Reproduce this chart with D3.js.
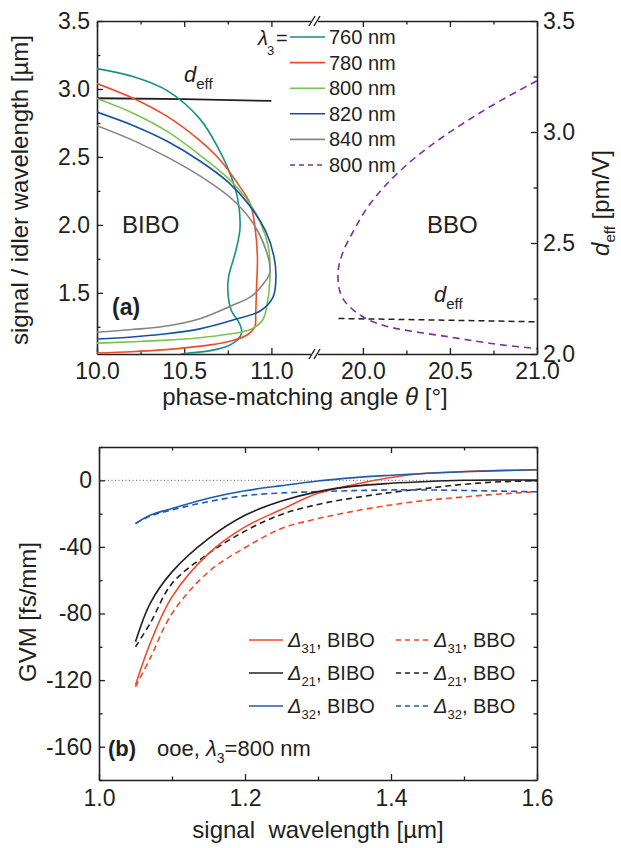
<!DOCTYPE html>
<html><head><meta charset="utf-8">
<script src="https://cdn.jsdelivr.net/npm/d3@7"></script>
<style>
body{margin:0;background:#fff}
svg{display:block;font-family:"Liberation Sans",Arial,sans-serif;fill:#231f20}
</style></head><body>
<svg id="c" width="621" height="848"></svg>
<script>
// ---------- DATA: panel (a) ----------
const lambda3Labels = ["760 nm","780 nm","800 nm","820 nm","840 nm","800 nm"];
// BIBO phase-matching curves [angle (deg), signal/idler wavelength (um)]
const bibo760 = [[10.0,3.15],[10.21,3.09],[10.40,2.99],[10.59,2.78],[10.694,2.566],[10.768,2.36],[10.808,2.183],[10.82,1.977],[10.797,1.815],[10.755,1.62],[10.75,1.52],[10.77,1.37],[10.815,1.28],[10.83,1.21],[10.81,1.16],[10.76,1.115],[10.65,1.075],[10.52,1.056],[10.48,1.05]];
const bibo780 = [[10.0,3.04],[10.21,2.93],[10.40,2.80],[10.59,2.62],[10.707,2.476],[10.805,2.307],[10.879,2.153],[10.908,1.96],[10.92,1.763],[10.915,1.55],[10.91,1.35],[10.905,1.25],[10.86,1.19],[10.78,1.15],[10.64,1.115],[10.50,1.095],[10.37,1.08],[10.2,1.067],[10.0,1.057]];
const bibo800 = [[10.0,2.93],[10.21,2.82],[10.40,2.69],[10.59,2.514],[10.78,2.308],[10.906,2.095],[10.98,1.852],[10.992,1.705],[10.99,1.57],[10.98,1.45],[10.95,1.30],[10.88,1.23],[10.75,1.195],[10.59,1.17],[10.37,1.15],[10.2,1.14],[10.0,1.13]];
const bibo820 = [[10.0,2.83],[10.21,2.73],[10.40,2.617],[10.59,2.47],[10.751,2.316],[10.877,2.139],[10.969,1.948],[11.015,1.764],[11.026,1.617],[11.01,1.47],[10.94,1.37],[10.78,1.30],[10.59,1.235],[10.37,1.195],[10.2,1.175],[10.0,1.16]];
const bibo840 = [[10.0,2.73],[10.21,2.62],[10.40,2.50],[10.59,2.36],[10.78,2.183],[10.894,2.014],[10.969,1.815],[10.992,1.653],[10.95,1.56],[10.88,1.47],[10.78,1.41],[10.59,1.31],[10.37,1.25],[10.2,1.23],[10.0,1.21]];
// BBO phase-matching curve, lambda3 = 800 nm
const bbo800 = [[21.0,3.06],[20.788,2.912],[20.598,2.765],[20.426,2.617],[20.271,2.463],[20.127,2.286],[20.024,2.124],[19.949,1.962],[19.886,1.80],[19.857,1.646],[19.88,1.47],[19.98,1.34],[20.12,1.26],[20.5,1.175],[20.78,1.12],[21.0,1.09]];
// effective nonlinearity [angle, pm/V]
const deffBIBO = [[10.0,3.152],[10.5,3.148],[11.0,3.14]];
const deffBBO = [[19.86,2.16],[20.5,2.152],[21.0,2.145]];
// ticks
const xTicksL = [10.0,10.5,11.0], xMinorL = [10.25,10.75];
const xTicksR = [20.0,20.5,21.0], xMinorR = [20.25,20.75];
const yTicksL = [1.5,2.0,2.5,3.0,3.5], yMinorL = [1.25,1.75,2.25,2.75,3.25];
const yTicksR = [2.0,2.5,3.0,3.5], yMinorR = [2.25,2.75,3.25];

// ---------- DATA: panel (b) ----------
const signalWl = [1.05,1.07,1.1,1.15,1.2,1.25,1.3,1.35,1.4,1.45,1.5,1.55,1.6];
const d31BIBO = [-123,-98,-70,-44,-28,-17.5,-7.8,-2.5,1.7,4.2,5.3,5.9,6.3];
const d31BBO  = [-124,-107,-80,-55,-40.5,-29,-23,-18.5,-14.8,-12,-10,-8.2,-6.9];
const d21BIBO = [-97,-74,-55,-35,-21,-12.5,-6.8,-3.5,-1.8,-0.7,0,0.2,0.2];
const d21BBO  = [-100,-86,-62,-44,-30.5,-20.5,-14.5,-10.5,-7.3,-4.8,-2.4,-0.9,-0.3];
const d32BIBO = [-26,-21,-17,-10.8,-6.3,-3.2,-0.4,1.6,3.0,4.2,5.1,5.8,6.3];
const d32BBO  = [-26,-21.5,-17.8,-12.8,-9.2,-7.6,-6.8,-6.2,-5.8,-5.8,-6.1,-6.5,-6.9];
const gvmLegend = [["31","BIBO"],["21","BIBO"],["32","BIBO"],["31","BBO"],["21","BBO"],["32","BBO"]];
const x2Ticks = [1.0,1.2,1.4,1.6], x2Minor = [1.1,1.3,1.5];
const y2Ticks = [-160,-120,-80,-40,0], y2Minor = [-180,-140,-100,-60,-20,20];

// ---------- DRAW ----------
const svg = d3.select("#c");
const ink = "#231f20";
const F = "23px";

// panel (a) scales
const xL = d3.scaleLinear().domain([10.0,11.25]).range([97,315]);
const xR = d3.scaleLinear().domain([19.725,21.0]).range([315,537]);
const yL = d3.scaleLinear().domain([1.05,3.5]).range([354,21]);
const yR = d3.scaleLinear().domain([2.0,3.5]).range([354,21]);

const defs = svg.append("defs");
defs.append("clipPath").attr("id","clipL").append("rect").attr("x",97).attr("y",21).attr("width",218).attr("height",333);
defs.append("clipPath").attr("id","clipR").append("rect").attr("x",315).attr("y",21).attr("width",222).attr("height",333);

function styleAxis(g, size){
  g.select(".domain").attr("stroke",ink).attr("stroke-width",1.6);
  g.selectAll(".tick line").attr("stroke",ink).attr("stroke-width",1.3);
  g.selectAll("text").attr("fill",ink).style("font-size",size||F);
}
function addAxis(axis, tx, ty, major, minor, labels, pad){
  const g = svg.append("g").attr("transform",`translate(${tx},${ty})`)
    .call(axis.tickValues(major).tickSize(-6).tickSizeOuter(0).tickPadding(pad||8)
      .tickFormat(labels ? labels : ""));
  styleAxis(g);
  if (minor && minor.length){
    const gm = svg.append("g").attr("transform",`translate(${tx},${ty})`)
      .call(axis.tickValues(minor).tickSize(-3.5).tickFormat(""));
    styleAxis(gm);
    gm.select(".domain").remove();
  }
  return g;
}
const f1 = d3.format(".1f");

// bottom x axes (a)
addAxis(d3.axisBottom(xL),0,354,xTicksL,xMinorL,f1,9);
addAxis(d3.axisBottom(xR),0,354,xTicksR,xMinorR,f1,9);
// top x axes (a)
addAxis(d3.axisTop(xL),0,21,xTicksL,xMinorL,null);
addAxis(d3.axisTop(xR),0,21,xTicksR,xMinorR,null);
// left y
addAxis(d3.axisLeft(yL),97,0,yTicksL,yMinorL,f1,7);
// right y
addAxis(d3.axisRight(yR),537,0,yTicksR,yMinorR,f1,6);

// axis breaks
[354,21].forEach(yy=>{
  svg.append("rect").attr("x",311).attr("y",yy-3).attr("width",7).attr("height",6).attr("fill","#fff");
  [309,314].forEach(x0=>{
    svg.append("line").attr("x1",x0).attr("y1",yy+5).attr("x2",x0+6).attr("y2",yy-5)
      .attr("stroke",ink).attr("stroke-width",1.4);
  });
});

const lineL = d3.line().x(d=>xL(d[0])).y(d=>yL(d[1])).curve(d3.curveCatmullRom.alpha(0.5));
const lineR = d3.line().x(d=>xR(d[0])).y(d=>yL(d[1])).curve(d3.curveCatmullRom.alpha(0.5));
const lineLd = d3.line().x(d=>xL(d[0])).y(d=>yR(d[1]));
const lineRd = d3.line().x(d=>xR(d[0])).y(d=>yR(d[1]));

const biboSeries = [bibo760,bibo780,bibo800,bibo820,bibo840];
const biboColors = ["#13918b","#f04b27","#7cc250","#1550a6","#858585"];
const bboColor = "#7a2fa2";

svg.append("path").attr("d",lineLd(deffBIBO)).attr("fill","none").attr("stroke",ink).attr("stroke-width",1.8);
svg.append("path").attr("d",lineRd(deffBBO)).attr("fill","none").attr("stroke",ink).attr("stroke-width",1.5).attr("stroke-dasharray","6,4");

biboSeries.forEach((s,i)=>{
  svg.append("path").attr("d",lineL(s)).attr("clip-path","url(#clipL)")
    .attr("fill","none").attr("stroke",biboColors[i]).attr("stroke-width",1.6);
});
svg.append("path").attr("d",lineR(bbo800)).attr("clip-path","url(#clipR)")
  .attr("fill","none").attr("stroke",bboColor).attr("stroke-width",1.6).attr("stroke-dasharray","7,5");

// legend (a)
svg.append("text").attr("x",258).attr("y",45).style("font-size","20px").style("font-style","italic").text("λ");
svg.append("text").attr("x",267).attr("y",55).style("font-size","13px").text("3");
svg.append("text").attr("x",276).attr("y",45).style("font-size","20px").text("=");
lambda3Labels.forEach((lab,i)=>{
  const cy = 37 + i*25.6;
  svg.append("line").attr("x1",290).attr("x2",325).attr("y1",cy).attr("y2",cy)
    .attr("stroke", i<5 ? biboColors[i] : bboColor).attr("stroke-width",1.6)
    .attr("stroke-dasharray", i<5 ? null : "5,4");
  svg.append("text").attr("x",329).attr("y",cy+7).style("font-size","20px").text(lab);
});

// annotations (a)
function deffText(x,y,size,sub){
  const t = svg.append("text").attr("x",x).attr("y",y).style("font-size",size+"px");
  t.append("tspan").style("font-style","italic").text("d");
  t.append("tspan").attr("dy",sub*0.45).style("font-size",(sub)+"px").text("eff");
  return t;
}
deffText(184,82,22,15);
deffText(434,302,22,15);
svg.append("text").attr("x",122).attr("y",233).style("font-size","24px").text("BIBO");
svg.append("text").attr("x",427).attr("y",233).style("font-size","24px").text("BBO");
svg.append("text").attr("x",112).attr("y",315).style("font-size","23px").style("font-weight","bold").text("(a)");

// axis titles (a)
svg.append("text").attr("x",305).attr("y",405).attr("text-anchor","middle").style("font-size","24px")
  .html('phase-matching angle <tspan font-style="italic">θ</tspan> [°]');
svg.append("text").attr("transform","translate(28,190) rotate(-90)").attr("text-anchor","middle")
  .style("font-size","24px").text("signal / idler wavelength [µm]");
{
  const t = svg.append("text").attr("transform","translate(609,203) rotate(-90)").attr("text-anchor","middle").style("font-size","24px");
  t.append("tspan").style("font-style","italic").text("d");
  t.append("tspan").attr("dy",6).style("font-size","15px").text("eff");
  t.append("tspan").attr("dy",-6).text(" [pm/V]");
}

// ---------- panel (b) ----------
const x2 = d3.scaleLinear().domain([1.0,1.6]).range([99,537]);
const y2 = d3.scaleLinear().domain([-180,20]).range([780,447]);
const f2 = d3.format(".1f");
const fy = d=>String(d);

addAxis(d3.axisBottom(x2),0,780,x2Ticks,x2Minor,f2,10);
addAxis(d3.axisTop(x2),0,447,x2Ticks,x2Minor,null);
addAxis(d3.axisLeft(y2),99,0,y2Ticks,y2Minor,fy,7);
addAxis(d3.axisRight(y2),537,0,y2Ticks,y2Minor,null);

// zero line
svg.append("line").attr("x1",x2(1.0)+2).attr("x2",x2(1.6)).attr("y1",y2(0)).attr("y2",y2(0))
  .attr("stroke","#555").attr("stroke-width",1).attr("stroke-dasharray","1,2.5");

const line2 = d3.line().x(d=>x2(d[0])).y(d=>y2(d[1])).curve(d3.curveCatmullRom.alpha(0.5));
const gvmSeries = [d31BIBO,d21BIBO,d32BIBO,d31BBO,d21BBO,d32BBO];
const gvmColors = ["#ef4a2a",ink,"#1d5cb0","#ef4a2a",ink,"#1d5cb0"];
[3,4,5,0,1,2].forEach(i=>{
  const pts = signalWl.map((w,j)=>[w,gvmSeries[i][j]]);
  svg.append("path").attr("d",line2(pts)).attr("fill","none")
    .attr("stroke",gvmColors[i]).attr("stroke-width",1.6)
    .attr("stroke-dasharray", i>=3 ? "6,4" : null);
});

// legend (b)
gvmLegend.forEach(([sub,cr],i)=>{
  const col = i<3?0:1, row = i%3;
  const lx = col===0?249:396, tx = col===0?288:434, cy = 640 + row*33;
  svg.append("line").attr("x1",lx).attr("x2",lx+34).attr("y1",cy).attr("y2",cy)
    .attr("stroke",gvmColors[i]).attr("stroke-width",1.6).attr("stroke-dasharray", col? "5,4":null);
  const t = svg.append("text").attr("x",tx).attr("y",cy+7).style("font-size","20px");
  t.append("tspan").style("font-style","italic").text("Δ");
  t.append("tspan").attr("dy",6).style("font-size","13px").text(sub);
  t.append("tspan").attr("dy",-6).text(", "+cr);
});

{
  svg.append("text").attr("x",108).attr("y",756).style("font-size","22px").style("font-weight","bold").text("(b)");
  const t = svg.append("text").attr("x",157).attr("y",756).style("font-size","22px");
  t.append("tspan").text("ooe, ");
  t.append("tspan").style("font-style","italic").text("λ");
  t.append("tspan").attr("dy",7).style("font-size","14px").text("3");
  t.append("tspan").attr("dy",-7).text("=800 nm");
}

svg.append("text").attr("x",318).attr("y",838).attr("text-anchor","middle").style("font-size","24px")
  .style("white-space","pre").text("signal  wavelength [µm]");
svg.append("text").attr("transform","translate(36,612) rotate(-90)").attr("text-anchor","middle")
  .style("font-size","24px").text("GVM [fs/mm]");
</script>
</body></html>
